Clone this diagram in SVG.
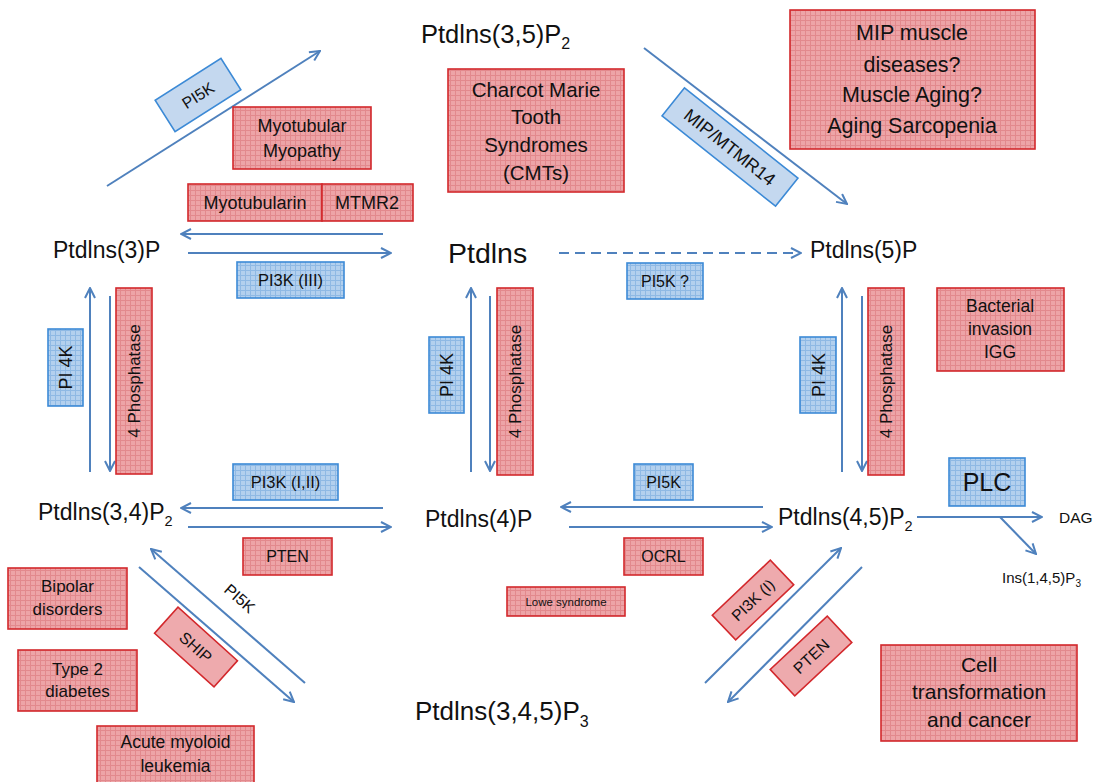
<svg xmlns="http://www.w3.org/2000/svg" width="1095" height="782" viewBox="0 0 1095 782">
<defs>
<pattern id="pr" width="5" height="5" patternUnits="userSpaceOnUse"><rect width="5" height="5" fill="#eda4a7"/><path d="M0 0.5H5M0.5 0V5" stroke="#e2898d" stroke-width="1"/></pattern>
<pattern id="pb" width="5" height="5" patternUnits="userSpaceOnUse"><rect width="5" height="5" fill="#b3d0ee"/><path d="M0 0.5H5M0.5 0V5" stroke="#8fb9e4" stroke-width="1"/></pattern>
<marker id="ah" viewBox="0 0 12 12" refX="11" refY="6" markerWidth="12" markerHeight="12" orient="auto" markerUnits="userSpaceOnUse"><path d="M1,1 L11,6 L1,11" fill="none" stroke="#4f81bd" stroke-width="2"/></marker>
<style>
.r{fill:url(#pr);stroke:#d3282c;stroke-width:1.6}
.rl{fill:#eeaaad;stroke:#d3282c;stroke-width:1.6}
.b{fill:url(#pb);stroke:#3c8ad6;stroke-width:1.6}
.bl{fill:#c4d8ef;stroke:#3c8ad6;stroke-width:1.6}
.c{fill:none;stroke:#4f81bd;stroke-width:2}
.ca{fill:none;stroke:#4f81bd;stroke-width:2;marker-end:url(#ah)}
text{font-family:"Liberation Sans",Arial,sans-serif;fill:#111}
.m{text-anchor:middle}
</style>
</defs>
<rect width="1095" height="782" fill="#fff"/>

<g id="connectors">
<line class="ca" x1="107" y1="186" x2="320" y2="51"/>
<line class="ca" x1="644" y1="48" x2="847" y2="204"/>
<line class="ca" x1="383" y1="234" x2="181" y2="234"/>
<line class="ca" x1="188" y1="253" x2="391" y2="253"/>
<line class="ca" x1="559" y1="253" x2="801" y2="253" stroke-dasharray="10,6"/>
<line class="ca" x1="90" y1="472" x2="90" y2="288"/>
<line class="ca" x1="110" y1="296" x2="110" y2="471"/>
<line class="ca" x1="471" y1="472" x2="471" y2="288"/>
<line class="ca" x1="490" y1="296" x2="490" y2="471"/>
<line class="ca" x1="842" y1="472" x2="842" y2="288"/>
<line class="ca" x1="862" y1="296" x2="862" y2="471"/>
<line class="ca" x1="383" y1="508" x2="181" y2="508"/>
<line class="ca" x1="188" y1="527" x2="391" y2="527"/>
<line class="ca" x1="763" y1="507" x2="561" y2="507"/>
<line class="ca" x1="569" y1="527" x2="772" y2="527"/>
<line class="ca" x1="917" y1="517" x2="1042" y2="517"/>
<line class="ca" x1="1000" y1="517" x2="1036" y2="554"/>
<line class="ca" x1="305" y1="683" x2="151" y2="549"/>
<line class="ca" x1="139" y1="567" x2="294" y2="702"/>
<line class="ca" x1="705" y1="683" x2="841" y2="548"/>
<line class="ca" x1="862" y1="567" x2="728" y2="702"/>
</g>

<g id="n-ptdins35p2"><text x="421" y="43" font-size="25.5">Ptdlns(3,5)P<tspan font-size="16" dy="6">2</tspan></text></g>
<g id="n-ptdins3p"><text x="53" y="258" font-size="23">Ptdlns(3)P</text></g>
<g id="n-ptdins"><text x="448" y="263" font-size="28.5">Ptdlns</text></g>
<g id="n-ptdins5p"><text x="810" y="258" font-size="23">Ptdlns(5)P</text></g>
<g id="n-ptdins34p2"><text x="38" y="520" font-size="23">Ptdlns(3,4)P<tspan font-size="14.5" dy="6">2</tspan></text></g>
<g id="n-ptdins4p"><text x="425" y="527" font-size="23">Ptdlns(4)P</text></g>
<g id="n-ptdins45p2"><text x="778" y="525" font-size="23">Ptdlns(4,5)P<tspan font-size="14.5" dy="6">2</tspan></text></g>
<g id="n-ptdins345p3"><text x="415" y="720" font-size="26">Ptdlns(3,4,5)P<tspan font-size="16" dy="7">3</tspan></text></g>
<g id="n-dag"><text x="1059" y="523" font-size="15.5">DAG</text></g>
<g id="n-ins145p3"><text x="1002" y="583" font-size="15">Ins(1,4,5)P<tspan font-size="10" dy="4">3</tspan></text></g>

<g id="n-myotubular-myopathy"><rect class="r" x="233" y="107" width="138" height="62"/><text class="m" x="302" y="132" font-size="18">Myotubular</text><text class="m" x="302" y="157" font-size="18">Myopathy</text></g>
<g id="n-myotubularin"><rect class="r" x="188" y="184" width="134" height="37"/><text class="m" x="255" y="209" font-size="18">Myotubularin</text></g>
<g id="n-mtmr2"><rect class="r" x="322" y="184" width="91" height="37"/><text class="m" x="367" y="209" font-size="18">MTMR2</text></g>
<g id="n-cmt"><rect class="r" x="448" y="69" width="176" height="123"/><text class="m" x="536" y="97" font-size="20.5">Charcot Marie</text><text class="m" x="536" y="124" font-size="20.5">Tooth</text><text class="m" x="536" y="152" font-size="20.5">Syndromes</text><text class="m" x="536" y="180" font-size="20.5">(CMTs)</text></g>
<g id="n-mip-diseases"><rect class="r" x="790" y="10" width="245" height="139"/><text class="m" x="912" y="40" font-size="21.5">MIP muscle</text><text class="m" x="912" y="72" font-size="21.5">diseases?</text><text class="m" x="912" y="102" font-size="21.5">Muscle Aging?</text><text class="m" x="912" y="133" font-size="21.5">Aging Sarcopenia</text></g>
<g id="n-bacterial"><rect class="r" x="937" y="288" width="127" height="83"/><text class="m" x="1000" y="312" font-size="17.5">Bacterial</text><text class="m" x="1000" y="335" font-size="17.5">invasion</text><text class="m" x="1000" y="358" font-size="17.5">IGG</text></g>
<g id="n-4phos-left"><rect class="r" x="116" y="288" width="36" height="186"/><text class="m" transform="translate(134,381) rotate(-90)" dy="6" font-size="17">4 Phosphatase</text></g>
<g id="n-4phos-center"><rect class="r" x="497" y="288" width="36" height="187"/><text class="m" transform="translate(515,381.5) rotate(-90)" dy="6" font-size="17">4 Phosphatase</text></g>
<g id="n-4phos-right"><rect class="r" x="868" y="288" width="36" height="187"/><text class="m" transform="translate(886,381.5) rotate(-90)" dy="6" font-size="17">4 Phosphatase</text></g>
<g id="n-pten-left"><rect class="r" x="243" y="538" width="89" height="37"/><text class="m" x="287.5" y="562" font-size="16">PTEN</text></g>
<g id="n-ocrl"><rect class="r" x="624" y="538" width="79" height="37"/><text class="m" x="663.5" y="562" font-size="16">OCRL</text></g>
<g id="n-lowe"><rect class="r" x="507" y="587" width="118" height="29"/><text class="m" x="566" y="605.5" font-size="11.5">Lowe syndrome</text></g>
<g id="n-bipolar"><rect class="r" x="8" y="568" width="119" height="61"/><text class="m" x="67.5" y="592" font-size="17">Bipolar</text><text class="m" x="67.5" y="615" font-size="17">disorders</text></g>
<g id="n-diabetes"><rect class="r" x="18" y="650" width="119" height="61"/><text class="m" x="77.5" y="675" font-size="17">Type 2</text><text class="m" x="77.5" y="697" font-size="17">diabetes</text></g>
<g id="n-aml"><rect class="r" x="97" y="726" width="157" height="60"/><text class="m" x="175.5" y="748" font-size="17.5">Acute myoloid</text><text class="m" x="175.5" y="772" font-size="17.5">leukemia</text></g>
<g id="n-cancer"><rect class="r" x="881" y="645" width="196" height="96"/><text class="m" x="979" y="672" font-size="21">Cell</text><text class="m" x="979" y="699" font-size="21">transformation</text><text class="m" x="979" y="727" font-size="21">and cancer</text></g>
<g id="n-ship" transform="translate(196,647) rotate(42)"><rect class="rl" x="-40" y="-17.5" width="80" height="35"/><text class="m" y="6" font-size="16">SHIP</text></g>
<g id="n-pi3k-i" transform="translate(753,600) rotate(-43.5)"><rect class="rl" x="-40" y="-17" width="80" height="34"/><text class="m" y="5.5" font-size="15.5">PI3K (I)</text></g>
<g id="n-pten-right" transform="translate(811,656) rotate(-43)"><rect class="rl" x="-39" y="-18" width="78" height="36"/><text class="m" y="6" font-size="16">PTEN</text></g>

<g id="n-pi5k-tl" transform="translate(198,95) rotate(-32.5)"><rect class="bl" x="-39" y="-18.5" width="78" height="37"/><text class="m" y="6" font-size="16">PI5K</text></g>
<g id="n-mip-mtmr14" transform="translate(730,147) rotate(38.5)"><rect class="bl" x="-72.5" y="-18" width="145" height="36"/><text class="m" y="6.5" font-size="18">MIP/MTMR14</text></g>
<g id="n-pi3k-iii"><rect class="b" x="237" y="262" width="107" height="36"/><text class="m" x="290.5" y="286" font-size="16.5">PI3K (III)</text></g>
<g id="n-pi4k-left"><rect class="b" x="48" y="329" width="35" height="77"/><text class="m" transform="translate(65.5,367.5) rotate(-90)" dy="6.5" font-size="18">PI 4K</text></g>
<g id="n-pi4k-center"><rect class="b" x="429" y="337" width="35" height="76"/><text class="m" transform="translate(446.5,375) rotate(-90)" dy="6.5" font-size="18">PI 4K</text></g>
<g id="n-pi4k-right"><rect class="b" x="800" y="337" width="36" height="76"/><text class="m" transform="translate(818,375) rotate(-90)" dy="6.5" font-size="18">PI 4K</text></g>
<g id="n-pi5k-q"><rect class="b" x="627" y="263" width="76" height="36"/><text class="m" x="665" y="287" font-size="16">PI5K ?</text></g>
<g id="n-pi3k-iii2"><rect class="b" x="233" y="464" width="105" height="36"/><text class="m" x="285.5" y="488" font-size="16.5">PI3K (I,II)</text></g>
<g id="n-pi5k-mid"><rect class="b" x="634" y="464" width="59" height="36"/><text class="m" x="663.5" y="488" font-size="16">PI5K</text></g>
<g id="n-plc"><rect class="b" x="949" y="458" width="76" height="48"/><text class="m" x="987" y="491" font-size="25">PLC</text></g>
<g id="n-pi5k-label"><text class="m" transform="translate(240,598) rotate(41)" dy="6" font-size="16">PI5K</text></g>
</svg>
